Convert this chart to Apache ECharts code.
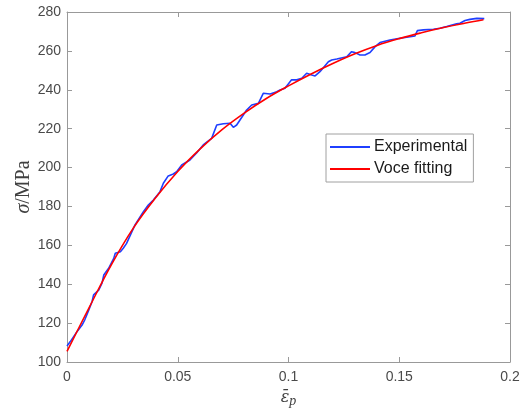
<!DOCTYPE html>
<html>
<head>
<meta charset="utf-8">
<script src="https://cdn.jsdelivr.net/npm/echarts@6/dist/echarts.min.js"></script>
<style>html,body{margin:0;padding:0;background:#fff}#c{width:527px;height:409px}</style>
</head>
<body>
<div id="c"></div>
<script>
// ---- data ----
const seriesNames = ['Experimental', 'Voce fitting'];
const xTicks = [0, 0.05, 0.1, 0.15, 0.2];
const yTicks = [100, 120, 140, 160, 180, 200, 220, 240, 260, 280];

const expStrain = [0, 0.0015, 0.0045, 0.0068, 0.0080, 0.0098, 0.0113, 0.0120, 0.0143, 0.0158,
  0.0166, 0.0188, 0.0211, 0.0218, 0.0241, 0.0254, 0.0269, 0.0307, 0.0345, 0.0367,
  0.0390, 0.0420, 0.0435, 0.0457, 0.0480, 0.0495, 0.0518, 0.0555, 0.0585, 0.0615,
  0.0653, 0.0676, 0.0706, 0.0736, 0.0751, 0.0766, 0.0790, 0.0811, 0.0834, 0.0864,
  0.0886, 0.0917, 0.0947, 0.0962, 0.0984, 0.1014, 0.1037, 0.1060, 0.1082, 0.1105,
  0.1120, 0.1142, 0.1180, 0.1195, 0.1218, 0.1263, 0.1285, 0.1300, 0.1323, 0.1345,
  0.1368, 0.1391, 0.1413, 0.1458, 0.1503, 0.1549, 0.1571, 0.1582, 0.1609, 0.1654,
  0.1684, 0.1714, 0.1759, 0.1774, 0.1797, 0.1819, 0.1850, 0.1884];
const expStress = [108.2, 110.5, 115.6, 119.0, 121.6, 126.7, 131.0, 134.5, 137.0, 140.5,
  144.7, 148.2, 153.3, 155.9, 156.7, 158.5, 161.0, 170.5, 177.3, 180.7,
  183.3, 187.6, 191.9, 195.7, 196.7, 197.9, 201.3, 203.9, 207.5, 211.6,
  215.0, 221.9, 222.5, 222.8, 220.7, 221.9, 226.0, 229.6, 232.2, 233.0,
  238.2, 237.8, 239.0, 239.9, 240.8, 245.1, 245.1, 245.9, 248.5, 247.6,
  247.1, 249.3, 254.4, 255.3, 255.8, 257.0, 259.6, 259.1, 257.9, 257.9,
  259.2, 262.2, 264.3, 265.6, 266.5, 267.3, 267.7, 270.4, 270.8, 271.1,
  271.6, 272.5, 273.9, 274.2, 275.6, 276.2, 276.7, 276.6];

const fitStrain = [0, 0.01, 0.02, 0.03, 0.04, 0.05, 0.06, 0.07, 0.08, 0.09,
  0.10, 0.11, 0.12, 0.13, 0.14, 0.15, 0.16, 0.17, 0.18, 0.188];
const fitStress = [105.5, 128.0, 150.0, 169.0, 184.5, 198.0, 209.5, 219.5, 228.0, 235.5,
  242.0, 248.0, 253.5, 258.5, 262.8, 266.3, 269.3, 272.0, 274.3, 276.0];

// ---- chart ----
const zip = (a, b) => a.map((v, i) => [v, b[i]]);
const axisColor = '#999999';
const labelColor = '#4a4a4a';
const sans = 'Liberation Sans, Arial, Helvetica, sans-serif';
const serif = 'Liberation Serif, Times New Roman, serif';

function xAx(pos, showLabel) {
  return {
    type: 'value', position: pos,
    min: xTicks[0], max: xTicks[xTicks.length - 1], interval: xTicks[1] - xTicks[0],
    axisLine: { show: true, onZero: false, lineStyle: { color: axisColor, width: 1 } },
    axisTick: { show: true, inside: true, length: 5, lineStyle: { color: axisColor } },
    axisLabel: { show: showLabel, color: labelColor, fontFamily: sans, fontSize: 14, margin: 8 },
    splitLine: { show: false }
  };
}
function yAx(pos, showLabel) {
  return {
    type: 'value', position: pos,
    min: yTicks[0], max: yTicks[yTicks.length - 1], interval: yTicks[1] - yTicks[0],
    axisLine: { show: true, onZero: false, lineStyle: { color: axisColor, width: 1 } },
    axisTick: { show: true, inside: true, length: 5, lineStyle: { color: axisColor } },
    axisLabel: { show: showLabel, color: labelColor, fontFamily: sans, fontSize: 14, margin: 6 },
    splitLine: { show: false }
  };
}

const xMain = xAx('bottom', true);
xMain.name = '{e|ε̄}{p|p}';
xMain.nameLocation = 'middle';
xMain.nameGap = 26;
xMain.nameMoveOverlap = false;
xMain.nameTextStyle = {
  color: '#404040',
  rich: {
    e: { fontFamily: 'DejaVu Serif', fontStyle: 'italic', fontSize: 16, color: '#404040' },
    p: { fontFamily: serif, fontStyle: 'italic', fontSize: 14, color: '#404040', padding: [6, 0, 0, 0] }
  }
};
const yMain = yAx('left', true);
yMain.name = '{s|σ}{m|/MPa}';
yMain.nameLocation = 'middle';
yMain.nameGap = 33;
yMain.nameMoveOverlap = false;
yMain.nameRotate = 90;
yMain.nameTextStyle = {
  color: '#404040',
  rich: {
    s: { fontFamily: serif, fontStyle: 'italic', fontSize: 20, color: '#404040' },
    m: { fontFamily: serif, fontSize: 20, color: '#404040' }
  }
};
const xTop = xAx('top', false);
const yRight = yAx('right', false);

const chart = echarts.init(document.getElementById('c'), null, { renderer: 'canvas' });
chart.setOption({
  animation: false,
  backgroundColor: '#ffffff',
  grid: { left: 67, top: 12, right: 17, bottom: 47, containLabel: false, outerBoundsMode: 'none' },
  xAxis: [xMain, xTop],
  yAxis: [yMain, yRight],
  legend: {
    data: seriesNames,
    orient: 'vertical',
    left: 326, top: 134,
    padding: [4, 6, 4, 4],
    itemGap: 4,
    itemWidth: 40, itemHeight: 2,
    icon: 'rect',
    backgroundColor: '#ffffff',
    borderColor: '#a0a0a0', borderWidth: 1,
    textStyle: { fontFamily: sans, fontSize: 16, color: '#1a1a1a', lineHeight: 18, padding: [0, 0, 0, -1] }
  },
  series: [
    {
      name: seriesNames[0], type: 'line', xAxisIndex: 0, yAxisIndex: 0,
      data: zip(expStrain, expStress),
      showSymbol: false, symbol: 'none', smooth: false,
      lineStyle: { color: '#1f3fff', width: 1.6 }, itemStyle: { color: '#1f3fff' },
      z: 2
    },
    {
      name: seriesNames[1], type: 'line', xAxisIndex: 0, yAxisIndex: 0,
      data: zip(fitStrain, fitStress),
      showSymbol: false, symbol: 'none', smooth: 0.4,
      lineStyle: { color: '#ff0000', width: 1.6 }, itemStyle: { color: '#ff0000' },
      z: 3
    }
  ]
});
</script>
</body>
</html>
